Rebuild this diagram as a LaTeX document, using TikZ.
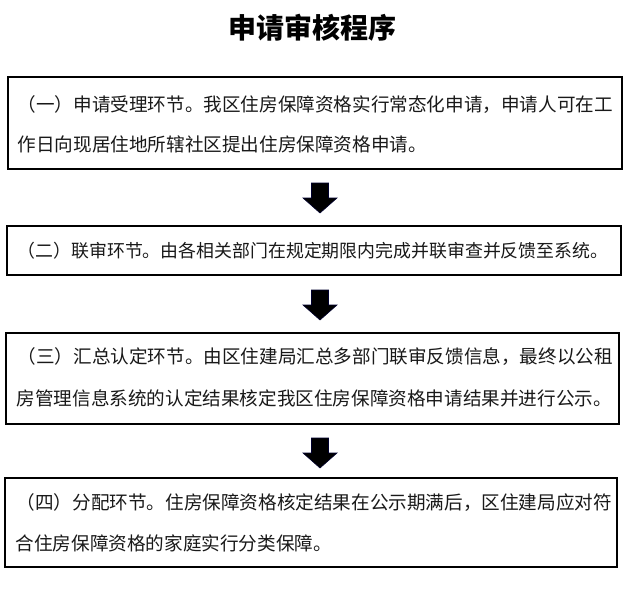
\documentclass[tikz,border=0pt]{standalone}
\usepackage{fontspec}
\setmainfont{Noto Sans CJK SC}
\usetikzlibrary{calc}
\tikzset{
  stepbox/.style={draw=black, line width=1.2pt, rectangle, inner sep=0pt},
  linetext/.style={anchor=west, inner sep=0pt, font=\fontsize{18.6}{20}\selectfont, text=black!90},
  blockarrow/.style={fill=black, draw=black!70!blue!60!black, line width=0.6pt, line join=miter},
  downarrow/.pic={
    \path[blockarrow] (-8.5,0) -- (8.5,0) -- (8.5,15) -- (17,15) -- (0,30) -- (-17,15) -- (-8.5,15) -- cycle;
  }
}
\begin{document}
\begin{tikzpicture}[x=1pt,y=-1pt]
\useasboundingbox (0,0) rectangle (628,594);
\fill[white] (0,0) rectangle (628,594);
% title
\node[font=\fontsize{28}{30}\selectfont\bfseries, inner sep=0pt] (title) at (312,28) {申请审核程序};
% boxes
\node[stepbox, minimum width=614pt, minimum height=92pt] (b1) at (315,123) {};
\node[stepbox, minimum width=614pt, minimum height=49pt] (b2) at (314,250.5) {};
\node[stepbox, minimum width=613pt, minimum height=91pt] (b3) at (312.5,378.5) {};
\node[stepbox, minimum width=612pt, minimum height=89pt] (b4) at (311,522.5) {};
% texts
\node[linetext] (t1a) at ($(b1.north west)+(10,28)$) {（一）申请受理环节。我区住房保障资格实行常态化申请，申请人可在工};
\node[linetext] (t1b) at ($(b1.north west)+(10,68)$) {作日向现居住地所辖社区提出住房保障资格申请。};
\node[linetext, font=\fontsize{17.9}{20}\selectfont] (t2a) at ($(b2.west)+(11,0)$) {（二）联审环节。由各相关部门在规定期限内完成并联审查并反馈至系统。};
\node[linetext] (t3a) at ($(b3.north west)+(12,24)$) {（三）汇总认定环节。由区住建局汇总多部门联审反馈信息，最终以公租};
\node[linetext] (t3b) at ($(b3.north west)+(11,66)$) {房管理信息系统的认定结果核定我区住房保障资格申请结果并进行公示。};
\node[linetext] (t4a) at ($(b4.north west)+(12,25)$) {（四）分配环节。住房保障资格核定结果在公示期满后，区住建局应对符};
\node[linetext] (t4b) at ($(b4.north west)+(11,66)$) {合住房保障资格的家庭实行分类保障。};
% arrows
\coordinate (a1) at (320,183);
\coordinate (a2) at (320,290);
\coordinate (a3) at (320,438);
\pic at (a1) {downarrow};
\pic at (a2) {downarrow};
\pic at (a3) {downarrow};
\end{tikzpicture}
\end{document}
